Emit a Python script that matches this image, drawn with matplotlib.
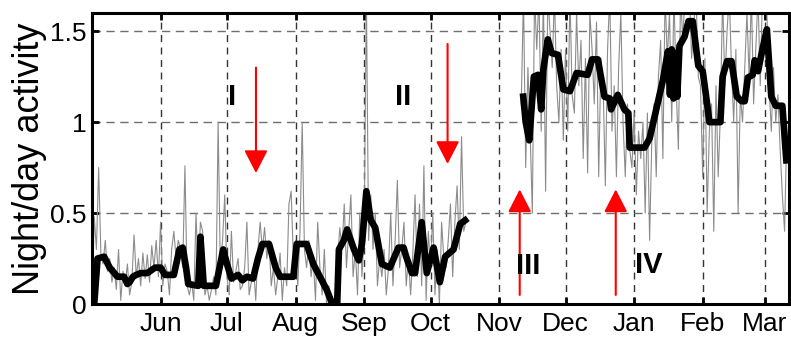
import numpy as np
import matplotlib
matplotlib.use("Agg")
import matplotlib.pyplot as plt

plt.rcParams["font.family"] = ["Liberation Sans", "DejaVu Sans"]

# days counted from 1 May
month_days = [31, 61, 92, 123, 153, 184, 214, 245, 276, 304]
month_labels = ["Jun", "Jul", "Aug", "Sep", "Oct", "Nov", "Dec", "Jan", "Feb", "Mar"]

# daily night/day ratio, 1 May - 17 Oct
gray1_start = 0
gray1 = [
    0.00, 0.48, 0.30, 0.75, 0.28, 0.22, 0.35, 0.18, 0.25, 0.12,
    0.20, 0.08, 0.30, 0.02, 0.18, 0.10, 0.22, 0.05, 0.12, 0.38,
    0.15, 0.25, 0.10, 0.28, 0.14, 0.27, 0.12, 0.32, 0.20, 0.35,
    0.15, 0.45, 0.10, 0.22, 0.18, 0.05, 0.30, 0.40, 0.25, 0.35,
    0.30, 0.20, 0.76, 0.10, 0.05, 0.12, 0.02, 0.50, 0.15, 0.45,
    0.40, 0.05, 0.10, 0.02, 0.08, 0.15, 0.05, 1.00, 0.20, 0.35,
    0.60, 0.15, 0.05, 0.40, 0.12, 0.18, 0.25, 0.08, 0.10, 0.20,
    0.45, 0.05, 0.12, 0.20, 0.02, 0.30, 0.45, 0.30, 0.42, 0.25,
    0.35, 0.10, 0.20, 0.05, 0.15, 0.28, 0.02, 0.20, 0.10, 0.55,
    0.62, 0.25, 0.35, 0.10, 0.40, 1.00, 0.30, 0.20, 0.35, 0.15,
    0.25, 0.02, 0.45, 0.20, 0.05, 0.30, 0.00, 0.10, 0.02, 0.00,
    0.00, 0.25, 0.42, 0.30, 0.55, 0.20, 0.40, 0.60, 0.15, 0.30,
    0.05, 0.50, 0.15, 0.40, 1.70, 0.35, 0.60, 0.30, 0.50, 0.10,
    0.25, 0.15, 0.30, 0.05, 0.20, 0.50, 0.10, 0.35, 0.68, 0.20,
    0.30, 0.45, 0.10, 0.25, 0.05, 0.28, 0.60, 0.15, 0.55, 0.10,
    0.76, 0.02, 0.40, 0.20, 0.50, 0.05, 0.30, 0.00, 0.45, 0.25,
    0.20, 0.35, 0.55, 0.15, 0.45, 0.65, 0.30, 0.92, 0.40, 0.45,
]

# daily night/day ratio, 12 Nov - 12 Mar
gray2_start = 194
gray2 = [
    1.10, 1.70, 0.75, 1.30, 0.95, 0.50, 1.70, 1.40, 1.70, 0.95,
    1.70, 0.62, 1.70, 1.50, 1.30, 1.70, 1.20, 1.00, 1.40, 0.90,
    1.40, 0.95, 1.70, 1.15, 1.05, 1.60, 1.20, 1.45, 0.80, 1.35,
    0.72, 1.60, 1.40, 1.10, 1.55, 0.70, 1.35, 1.20, 0.65, 1.40,
    1.70, 0.95, 1.20, 0.70, 1.30, 1.60, 1.00, 0.70, 1.10, 0.85,
    0.75, 1.05, 0.60, 0.95, 0.80, 1.00, 0.50, 1.05, 0.35, 0.90,
    1.10, 0.70, 1.25, 1.45, 0.80, 1.70, 1.35, 1.60, 1.00, 1.70,
    1.20, 0.85, 1.70, 1.45, 1.70, 1.60, 1.70, 1.35, 1.55, 1.70,
    1.25, 1.20, 0.70, 1.35, 0.50, 0.95, 1.10, 0.40, 1.20, 0.70,
    1.05, 1.70, 1.20, 1.50, 1.70, 1.30, 1.00, 1.40, 0.50, 1.15,
    1.00, 1.30, 1.60, 1.25, 1.70, 1.10, 1.40, 1.70, 1.20, 1.70,
    1.70, 1.60, 1.20, 0.95, 1.30, 1.00, 1.15, 0.85, 0.60, 0.40, 0.95,
]

# smoothed curve
black1_days = [1, 2.5, 5.5, 8, 11.5, 14.5, 16, 17, 18.5, 20, 22, 25, 28.5, 31, 33, 37,
               39.5, 41, 42.5, 43.5, 48, 49, 50.5, 56, 59.3, 61, 63, 66, 68, 70, 72.8,
               75, 77, 80, 83, 85, 91, 92.5, 97, 100, 103, 106, 108.6, 110.8, 111.6,
               113.8, 115.3, 118.4, 120.6, 122, 124, 126, 128, 131, 134.6, 138.5, 140.8,
               142, 144.6, 146, 149, 151.3, 154.4, 157.2, 159.6, 163.4, 166.4, 168.6]
black1_vals = [0.0, 0.25, 0.26, 0.2, 0.15, 0.15, 0.11, 0.12, 0.15, 0.16, 0.17, 0.17, 0.2, 0.2, 0.16, 0.16,
               0.3, 0.31, 0.2, 0.11, 0.1, 0.37, 0.1, 0.1, 0.3, 0.22, 0.14, 0.16, 0.13, 0.15, 0.14,
               0.25, 0.33, 0.33, 0.2, 0.15, 0.15, 0.33, 0.33, 0.22, 0.15, 0.08, 0.0, 0.0, 0.3,
               0.35, 0.41, 0.3, 0.24, 0.33, 0.62, 0.46, 0.42, 0.22, 0.2, 0.31, 0.31,
               0.26, 0.17, 0.17, 0.45, 0.17, 0.31, 0.12, 0.26, 0.3, 0.44, 0.46]

black2_days = [194.9, 196, 197.6, 199.7, 201.6, 203, 204, 206, 207.7, 210.6, 213, 216, 219, 224,
               226, 228.6, 231.6, 234, 234.6, 237.6, 240.6, 242.4, 243, 249.7, 252, 255, 258,
               260.3, 261.2, 262, 262.8, 263.6, 264.5, 265.5, 267.8, 269.6, 271.5, 274, 276,
               278, 279, 284, 285, 287, 289, 291.4, 293.6, 295, 296.4, 298.6, 299.5, 301,
               303, 305, 307, 309, 312, 313.8]
black2_vals = [1.14, 1.0, 0.9, 1.25, 1.26, 1.07, 1.29, 1.455, 1.38, 1.37, 1.18, 1.17, 1.27, 1.26,
               1.345, 1.345, 1.14, 1.13, 1.07, 1.15, 1.07, 1.05, 0.86, 0.86, 0.91, 1.07, 1.23,
               1.39, 1.15, 1.4, 1.13, 1.38, 1.14, 1.42, 1.47, 1.555, 1.555, 1.31, 1.28,
               1.1, 1.0, 1.0, 1.25, 1.335, 1.335, 1.14, 1.115, 1.115, 1.245, 1.26, 1.34, 1.28,
               1.4, 1.51, 1.14, 1.09, 1.09, 0.79]

# periods: label, arrow x, arrow tail y, arrow head y, label x, label y
periods = [
    ("I", 74.1, 1.30, 0.72, 63.1, 1.14),
    ("II", 160.7, 1.43, 0.77, 140.5, 1.14),
    ("III", 193.3, 0.05, 0.63, 197.0, 0.21),
    ("IV", 236.7, 0.05, 0.63, 251.6, 0.215),
]

fig = plt.figure(figsize=(7.91, 3.45), dpi=100)
ax = fig.add_axes([92 / 791, 41 / 345, 697 / 791, 291 / 345])

x1 = np.arange(len(gray1)) + gray1_start
x2 = np.arange(len(gray2)) + gray2_start
ax.plot(x1, gray1, color="#8c8c8c", lw=0.8, zorder=2)
ax.plot(x2, gray2, color="#8c8c8c", lw=0.8, zorder=2)
ax.plot(black1_days, black1_vals, color="black", lw=4.8, solid_joinstyle="round", zorder=3)
ax.plot(black2_days, black2_vals, color="black", lw=4.8, solid_joinstyle="round", zorder=3)

for lab, ax_x, y0, y1, tx, ty in periods:
    ax.annotate("", xy=(ax_x, y1), xytext=(ax_x, y0),
                arrowprops=dict(arrowstyle="-|>,head_length=1.4,head_width=0.72",
                                mutation_scale=10, color="red", lw=1.5,
                                shrinkA=0, shrinkB=0), zorder=4)
    ax.text(tx, ty, lab, fontsize=21, fontweight="bold", ha="center", va="center", zorder=4)

ax.set_xlim(0, 315)
ax.set_ylim(0, 1.6)
ax.set_xticks(month_days)
ax.set_xticklabels(month_labels)
ax.set_yticks([0, 0.5, 1, 1.5])
ax.set_yticklabels(["0", "0.5", "1", "1.5"])

for x in month_days:
    ax.axvline(x, color="#333333", lw=1, ls=(0, (5, 4)), zorder=1)
for y in [0.5, 1, 1.5]:
    ax.axhline(y, color="#6e6e6e", lw=1, ls=(0, (6, 4)), zorder=1)

ax.tick_params(direction="in", length=5, width=2, top=True, right=True,
               labelsize=19, pad=6)
ax.tick_params(axis="y", pad=4)
for s in ax.spines.values():
    s.set_linewidth(2.2)

ax.set_ylabel("Night/day activity", fontsize=26, labelpad=2)

fig.savefig("out.png", dpi=100)
